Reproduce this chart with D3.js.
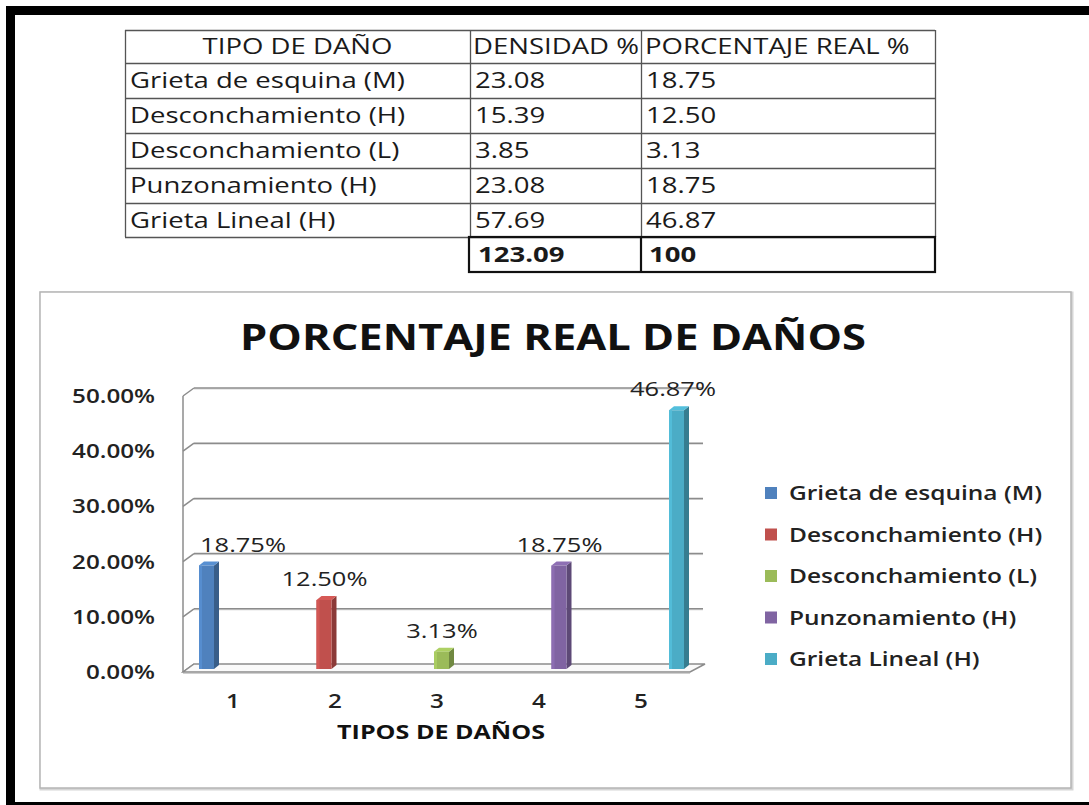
<!DOCTYPE html>
<html>
<head>
<meta charset="utf-8">
<script src="https://cdn.jsdelivr.net/npm/d3@7/dist/d3.min.js"></script>
<style>
  html, body { margin: 0; padding: 0; background: #fff; }
  svg { display: block; }
</style>
</head>
<body>
<svg id="chart" width="1089" height="805"></svg>
<script>
// ---------- DATA ----------
const categories = ["1", "2", "3", "4", "5"];
const damageTypes = ["Grieta de esquina (M)", "Desconchamiento (H)", "Desconchamiento (L)", "Punzonamiento (H)", "Grieta Lineal (H)"];
const densityPct = [23.08, 15.39, 3.85, 23.08, 57.69];
const realPct = [18.75, 12.50, 3.13, 18.75, 46.87];
const totals = ["123.09", "100"];
const tableHeaders = ["TIPO DE DAÑO", "DENSIDAD %", "PORCENTAJE REAL %"];
const yTicks = [0, 0.1, 0.2, 0.3, 0.4, 0.5];
const chartTitle = "PORCENTAJE REAL DE DAÑOS";
const xAxisTitle = "TIPOS DE DAÑOS";
const colors = ["#4F81BD", "#C0504D", "#9BBB59", "#8064A2", "#4BACC6"];

// ---------- SETUP ----------
const svg = d3.select("#chart");
const FONT = "'Open Sans', 'Noto Sans', sans-serif";
const texts = []; // {t, x, y, cls}

function addText(g, x, y, s, cls, opts = {}) {
  const t = g.append("text")
    .text(s)
    .attr("font-family", FONT)
    .attr("font-size", opts.size || 20)
    .attr("font-weight", opts.weight || "normal")
    .attr("fill", opts.fill || "#1a1a1a")
    .attr("text-anchor", opts.anchor || "start");
  texts.push({ t, x, y, cls });
  return t;
}

// ---------- OUTER FRAME ----------
svg.append("rect").attr("x", 6).attr("y", 6).attr("width", 1083).attr("height", 9).attr("fill", "#000");
svg.append("rect").attr("x", 6).attr("y", 6).attr("width", 9).attr("height", 796).attr("fill", "#000");
svg.append("rect").attr("x", 6).attr("y", 802).attr("width", 1083).attr("height", 3).attr("fill", "#000");

// ---------- TABLE ----------
const colX = [125, 470, 641, 935];
const rowY = [30, 63, 98, 133, 168, 203, 237, 272];
const tg = svg.append("g");
const fmt2 = d3.format(".2f");

for (let i = 0; i <= 6; i++) {
  tg.append("line").attr("x1", colX[0]).attr("x2", colX[3]).attr("y1", rowY[i] + 0.5).attr("y2", rowY[i] + 0.5)
    .attr("stroke", "#555").attr("stroke-width", 1.3);
}
colX.forEach(x => {
  tg.append("line").attr("x1", x + 0.5).attr("x2", x + 0.5).attr("y1", rowY[0]).attr("y2", rowY[6])
    .attr("stroke", "#555").attr("stroke-width", 1.3);
});
tg.append("rect").attr("x", colX[1] - 1).attr("y", rowY[6]).attr("width", colX[3] - colX[1] + 1).attr("height", rowY[7] - rowY[6])
  .attr("fill", "none").attr("stroke", "#111").attr("stroke-width", 2.2);
tg.append("line").attr("x1", colX[2]).attr("x2", colX[2]).attr("y1", rowY[6]).attr("y2", rowY[7])
  .attr("stroke", "#111").attr("stroke-width", 2.2);

const rowMid = i => (rowY[i] + rowY[i + 1]) / 2 + 7.5;
addText(tg, (colX[0] + colX[1]) / 2, rowMid(0), tableHeaders[0], "tbl", { size: 21, anchor: "middle" });
addText(tg, colX[1] + 3, rowMid(0), tableHeaders[1], "tbl", { size: 21 });
addText(tg, colX[2] + 4, rowMid(0), tableHeaders[2], "tbl", { size: 21 });
damageTypes.forEach((d, i) => {
  addText(tg, colX[0] + 5, rowMid(i + 1), d, i === 0 ? "tblref" : "tbl", { size: 21 });
  addText(tg, colX[1] + 5, rowMid(i + 1), fmt2(densityPct[i]), "tbl", { size: 21 });
  addText(tg, colX[2] + 5, rowMid(i + 1), fmt2(realPct[i]), "tbl", { size: 21 });
});
addText(tg, colX[1] + 8, rowMid(6), totals[0], "tbl", { size: 21, weight: "bold" });
addText(tg, colX[2] + 8, rowMid(6), totals[1], "tbl", { size: 21, weight: "bold" });

// ---------- CHART BOX ----------
svg.append("rect").attr("x", 41).attr("y", 293).attr("width", 1031).attr("height", 496)
  .attr("fill", "none").attr("stroke", "#d6d6d6").attr("stroke-width", 3);
svg.append("rect").attr("x", 40).attr("y", 292).attr("width", 1031).attr("height", 496)
  .attr("fill", "#fff").attr("stroke", "#b5b5b5").attr("stroke-width", 1.5);

addText(svg, 553, 350, chartTitle, "title", { size: 36, weight: 700, anchor: "middle", fill: "#111" });

// ---------- SCALES ----------
const yBack = d3.scaleLinear().domain([0, 0.5]).range([664, 388]);
const yFront = d3.scaleLinear().domain([0, 0.5]).range([672, 396]);
const yBar = d3.scaleLinear().domain([0, 0.5]).range([669, 393]);
const xBand = d3.scaleBand().domain(categories).range([182, 692]);
const xBar = d3.scalePoint().domain(categories).range([207, 677]);

const pg = svg.append("g");
const GRID = "#8c8c8c";
yTicks.forEach(v => {
  if (v > 0) {
    pg.append("line").attr("x1", 194).attr("x2", 703).attr("y1", yBack(v) + 1).attr("y2", yBack(v) + 1).attr("stroke", "#d4d4d4").attr("stroke-width", 1);
    pg.append("line").attr("x1", 194).attr("x2", 703).attr("y1", yBack(v)).attr("y2", yBack(v)).attr("stroke", GRID).attr("stroke-width", 1.5);
  }
  pg.append("line").attr("x1", 183).attr("x2", 194).attr("y1", yFront(v)).attr("y2", yBack(v)).attr("stroke", GRID).attr("stroke-width", 1.5);
});
pg.append("line").attr("x1", 183).attr("x2", 183).attr("y1", yFront(0.5)).attr("y2", yFront(0)).attr("stroke", GRID).attr("stroke-width", 1.5);
pg.append("path")
  .attr("d", `M183,${yFront(0)} L690,${yFront(0)} L705,${yBack(0)} L194,${yBack(0)} Z`)
  .attr("fill", "#fafafa").attr("stroke", GRID).attr("stroke-width", 1.5);
pg.append("line").attr("x1", 183).attr("x2", 690).attr("y1", yFront(0) + 1.5).attr("y2", yFront(0) + 1.5).attr("stroke", "#cfcfcf").attr("stroke-width", 1.2);

// y axis labels
const yAxisG = svg.append("g");
yTicks.forEach(v => {
  addText(yAxisG, 155, yFront(v) + 7, d3.format(".2%")(v), v === 0.5 ? "yref" : "y", { size: 20, weight: 600, anchor: "end", fill: "#222" });
});

// bars (3D columns)
const W = 15, DX = 5, DY = -4;
const barG = svg.append("g");
categories.forEach((c, i) => {
  const v = realPct[i] / 100;
  const cx = xBar(c);
  const x0 = cx - 8, x1 = x0 + W;
  const yt = yBar(v), yb = yBar(0);
  const col = d3.color(colors[i]);
  barG.append("path").attr("d", `M${x1},${yt} L${x1 + DX},${yt + DY} L${x1 + DX},${yb + DY} L${x1},${yb} Z`)
    .attr("fill", col.darker(0.9));
  barG.append("path").attr("d", `M${x0},${yt} L${x0 + DX},${yt + DY} L${x1 + DX},${yt + DY} L${x1},${yt} Z`)
    .attr("fill", col.brighter(0.3));
  barG.append("rect").attr("x", x0).attr("y", yt).attr("width", W).attr("height", yb - yt).attr("fill", col);
  barG.append("rect").attr("x", x0).attr("y", yt).attr("width", 3).attr("height", yb - yt).attr("fill", col.brighter(0.25));
});

// data labels
const dl = svg.append("g");
categories.forEach((c, i) => {
  const v = realPct[i] / 100;
  addText(dl, xBar(c) - (i === 4 ? 4 : 0), yBar(v) - 14, d3.format(".2%")(v), i === 0 ? "dlref" : "dl", { size: 20, anchor: "middle", fill: "#222" });
});

// x axis tick labels
const xg = svg.append("g");
categories.forEach(c => {
  addText(xg, xBand(c) + xBand.bandwidth() / 2, 708, c, "x", { size: 20, weight: 600, anchor: "middle", fill: "#222" });
});
addText(svg, 441, 739, xAxisTitle, "xtitle", { size: 19, weight: "bold", anchor: "middle", fill: "#111" });

// legend
const lg = svg.append("g");
const legY = d3.scalePoint().domain(damageTypes).range([493, 659]);
damageTypes.forEach((d, i) => {
  lg.append("rect").attr("x", 765).attr("y", legY(d) - 6).attr("width", 12).attr("height", 12).attr("fill", colors[i]);
  addText(lg, 789, legY(d) + 7, d, i === 0 ? "legref" : "leg", { size: 19, weight: 600, fill: "#222" });
});

// ---------- HORIZONTAL FIT (reference image is horizontally stretched) ----------
function widthOf(cls) {
  const it = texts.find(o => o.cls === cls);
  it.t.attr("x", it.x).attr("y", it.y);
  return it.t.node().getComputedTextLength();
}
const sx = {};
sx.tbl = 275 / widthOf("tblref"); sx.tblref = sx.tbl;
sx.y = 83 / widthOf("yref"); sx.yref = sx.y;
sx.dl = 86 / widthOf("dlref"); sx.dlref = sx.dl;
sx.x = sx.y;
sx.leg = 253 / widthOf("legref"); sx.legref = sx.leg;
sx.title = 626 / widthOf("title");
sx.xtitle = 208 / widthOf("xtitle");

texts.forEach(o => {
  let x = o.x;
  if (o.cls === "dlref") {
    const w = o.t.node().getComputedTextLength() * sx.dl;
    x = Math.max(x, 200 + w / 2);
  }
  o.t.attr("x", null).attr("y", null)
    .attr("transform", `translate(${x},${o.y}) scale(${sx[o.cls]},1)`);
});
</script>
</body>
</html>
